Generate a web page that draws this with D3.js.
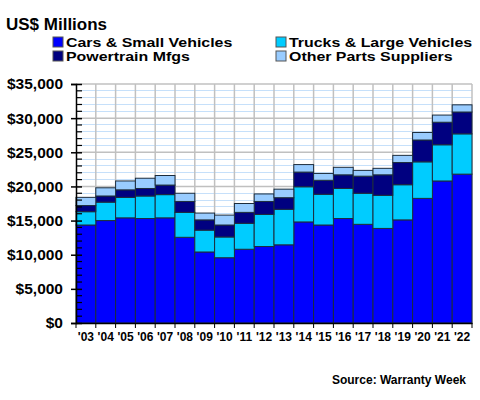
<!DOCTYPE html>
<html><head><meta charset="utf-8">
<script src="https://cdn.jsdelivr.net/npm/d3@7"></script>
<style>
html,body{margin:0;padding:0;background:#fff;}
svg{display:block;font-family:"Liberation Sans",Arial,sans-serif;font-weight:bold;}
</style></head>
<body>
<svg id="chart" width="480" height="400"></svg>
<script>
const years = ["'03","'04","'05","'06","'07","'08","'09","'10","'11","'12","'13","'14","'15","'16","'17","'18","'19","'20","'21","'22"];
const cars = [14350,15000,15400,15300,15400,12550,10400,9560,10800,11200,11450,14800,14350,15300,14450,13850,15100,18250,20800,21800];
const trucks = [1950,2700,3000,3300,3400,3650,3200,3040,3800,4700,5200,5150,4500,4400,4550,4850,5150,5350,5300,5900];
const powertrain = [900,900,1100,1100,1400,1600,1500,1750,1600,1900,1700,2150,2050,2000,2500,3000,3250,3200,3300,3200];
const otherParts = [1200,1200,1300,1500,1400,1200,1000,1450,1300,1100,1250,1100,1000,1100,850,950,1050,1100,1050,1050];
const seriesNames = ["Cars & Small Vehicles","Trucks & Large Vehicles","Powertrain Mfgs","Other Parts Suppliers"];
const yTicks = [0,5000,10000,15000,20000,25000,30000,35000];

const colors = ["#0000FF","#00CCFF","#000080","#99CCFF"];
const svg = d3.select("#chart");
const L = 76, R = 472, T = 84, B = 323;

const rows = years.map((y,i)=>({year:y, cars:cars[i], trucks:trucks[i], powertrain:powertrain[i], other:otherParts[i]}));
const keys = ["cars","trucks","powertrain","other"];
const stack = d3.stack().keys(keys)(rows);

const x = d3.scaleBand().domain(years).range([L,R]).padding(0);
const y = d3.scaleLinear().domain([0,35000]).range([B,T]);

// minor horizontal gridlines
const minor = d3.range(1000,35000,1000).filter(v=>v%5000!==0);
svg.append("g").selectAll("line").data(minor).join("line")
  .attr("x1",L).attr("x2",R).attr("y1",d=>y(d)).attr("y2",d=>y(d))
  .attr("stroke","#c6e0fa").attr("stroke-width",1).attr("shape-rendering","crispEdges");
// vertical gridlines
svg.append("g").selectAll("line").data(years.slice(1).concat(["end"])).join("line")
  .attr("x1",(d,i)=>i<years.length-1?x(d):R).attr("x2",(d,i)=>i<years.length-1?x(d):R)
  .attr("y1",T).attr("y2",B)
  .attr("stroke","#c0c0c0").attr("stroke-width",1.5);
// major horizontal gridlines
svg.append("g").selectAll("line").data(yTicks.slice(1)).join("line")
  .attr("x1",L).attr("x2",R).attr("y1",d=>y(d)).attr("y2",d=>y(d))
  .attr("stroke","#c0c0c0").attr("stroke-width",1.5);

// bars
svg.append("g").selectAll("g").data(stack).join("g")
  .attr("fill",(d,i)=>colors[i])
  .selectAll("rect").data(d=>d).join("rect")
  .attr("x",d=>x(d.data.year)).attr("width",x.bandwidth())
  .attr("y",d=>y(d[1])).attr("height",d=>y(d[0])-y(d[1]))
  .attr("stroke","#1c2c3c").attr("stroke-width",1);

// y axis
const yMinor = d3.range(0,35001,1000);
const yAxis = d3.axisLeft(y).tickValues(yTicks).tickFormat(d=>"$"+d3.format(",")(d)).tickSize(5).tickPadding(8);
const ga = svg.append("g").attr("transform",`translate(${L},0)`).call(yAxis);
ga.select(".domain").attr("stroke","#000").attr("stroke-width",1.5);
ga.selectAll(".tick line").attr("stroke","#000").attr("stroke-width",1.5).attr("x2",6).attr("x1",-5);
ga.selectAll(".tick text").attr("font-size","15.5px").attr("font-weight","bold").attr("fill","#000")
  .attr("font-family","Liberation Sans, Arial, sans-serif");
svg.append("g").selectAll("line").data(yMinor.filter(v=>v%5000!==0)).join("line")
  .attr("x1",L).attr("x2",L+6).attr("y1",d=>y(d)).attr("y2",d=>y(d))
  .attr("stroke","#000").attr("stroke-width",1.2);

// x axis
const xAxis = d3.axisBottom(x).tickSize(0).tickPadding(9);
const gx = svg.append("g").attr("transform",`translate(0,${B})`).call(xAxis);
gx.select(".domain").attr("stroke","#000").attr("stroke-width",1.5);
gx.selectAll(".tick text").attr("font-size","12px").attr("font-weight","bold").attr("fill","#000")
  .attr("font-family","Liberation Sans, Arial, sans-serif");
const bounds = years.map(d=>x(d)).concat([R]);
svg.append("g").selectAll("line").data(bounds).join("line")
  .attr("x1",d=>d).attr("x2",d=>d).attr("y1",B).attr("y2",B+5)
  .attr("stroke","#000").attr("stroke-width",1);

// title
svg.append("text").attr("x",6).attr("y",29.5).attr("font-size","17px").text("US$ Millions");

// legend
const legPos = [[53,46.5],[276,46.5],[53,60.5],[276,60.5]];
const lg = svg.append("g").selectAll("g").data(seriesNames).join("g")
  .attr("transform",(d,i)=>`translate(${legPos[i][0]},${legPos[i][1]})`);
lg.append("rect").attr("x",0).attr("y",-9.5).attr("width",10).attr("height",10)
  .attr("fill",(d,i)=>colors[i]).attr("stroke","#555").attr("stroke-width",1);
lg.append("g").attr("transform","translate(13,0) scale(1.18,1)")
  .append("text").attr("x",0).attr("y",0).attr("font-size","13.5px").text(d=>d);

// source
svg.append("text").attr("x",466).attr("y",384).attr("text-anchor","end").attr("font-size","12px").text("Source: Warranty Week");
</script>
</body></html>
